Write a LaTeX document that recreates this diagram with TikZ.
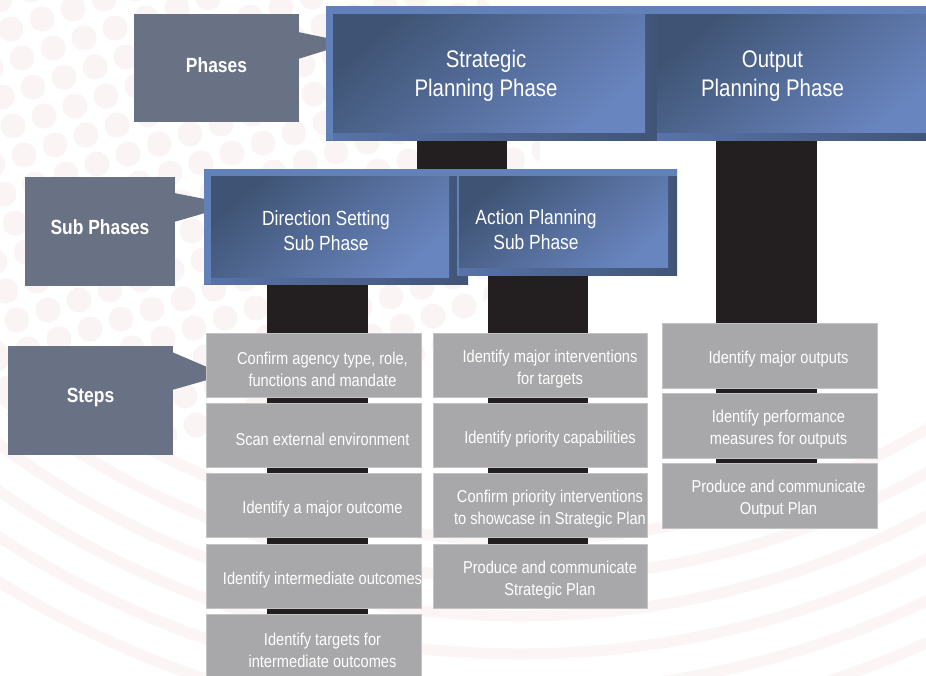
\documentclass[tikz,border=0pt]{standalone}
\usepackage{fontspec}
\setmainfont{Liberation Sans}[FakeStretch=0.85]
\usetikzlibrary{calc}
\pgfdeclarelayer{bg}
\pgfdeclarelayer{bars}
\pgfsetlayers{bg,bars,main}

\definecolor{bgdot}{HTML}{FAF4F4}
\definecolor{bgband}{HTML}{FBF5F5}
\definecolor{frameLight}{HTML}{6381B9}
\definecolor{frameMid}{HTML}{5873A8}
\definecolor{frameDeep}{HTML}{405577}
\definecolor{panelA}{HTML}{3F5474}
\definecolor{panelB}{HTML}{6985BF}
\definecolor{callfill}{HTML}{697184}
\definecolor{stepfill}{HTML}{A8A8AA}
\definecolor{stepline}{HTML}{C4C4C6}
\definecolor{barcol}{HTML}{231F20}

% bevelled blue box: node name, then left/top/right/bottom frame widths
\newcommand\bevelbox[5]{%
  \fill[framedark] (#1.north west) rectangle (#1.south east);
  \fill[framelight] (#1.north west) rectangle ([shift={(0,#3)}]#1.north east);
  \fill[framelight] (#1.north west) rectangle ([shift={(#2,0)}]#1.south west);
  \fill[bluepanel] ([shift={(#2,#3)}]#1.north west) rectangle ([shift={(-#4,-#5)}]#1.south east);
}

\begin{document}
\begin{tikzpicture}[x=1pt,y=-1pt,
  boxshape/.style={anchor=north west, inner sep=0, outer sep=0, draw=none},
  framedark/.style={left color=frameMid, right color=frameDeep},
  framelight/.style={fill=frameLight},
  bluepanel/.style={top color=panelA, bottom color=panelB, shading angle=40},
  tagbox/.style={anchor=north west, inner sep=0, outer sep=0, fill=callfill},
  tagtext/.style={text=white, font=\bfseries\fontsize{20.5}{24}\selectfont},
  tagtip/.style={fill=callfill},
  stepbox/.style={anchor=north west, inner sep=0, outer sep=0, fill=stepfill,
    draw=stepline, line width=0.6, minimum width=215, minimum height=64},
  steptext/.style={text=white, align=center, font=\fontsize{17.2}{22}\selectfont},
  phasetext/.style={text=white, align=center, font=\fontsize{24}{29}\selectfont},
  subtext/.style={text=white, align=center, font=\fontsize{20.5}{25}\selectfont},
  bar/.style={draw=barcol, line width=#1},
]
\useasboundingbox (0,0) rectangle (926,675);

% ---------- background: white page, faint rings and dots ----------
\begin{pgfonlayer}{bg}
  \fill[white] (0,0) rectangle (926,675);
  \begin{scope}
    \clip (0,0) rectangle (926,675);
    \foreach \r in {800,838,876,914,952,990}
      \draw[bgband, line width=11] (520,-260) circle[radius=\r];
  \end{scope}
  \begin{scope}
    \clip (160,150) ellipse [x radius=380, y radius=290];
    \foreach \i in {-8,...,16}
      \foreach \j in {-6,...,16}
        \fill[bgdot] ({\i*31+\j*11},{\j*29-\i*10}) circle[radius=12.5];
  \end{scope}
\end{pgfonlayer}

% ---------- phase and sub phase boxes ----------
\node[boxshape, minimum width=331, minimum height=134] (sp) at (326,6) {};
\node[boxshape, minimum width=276, minimum height=134] (op) at (657,6) {};
\node[boxshape, minimum width=264, minimum height=115] (ds) at (204,169) {};
\node[boxshape, minimum width=220, minimum height=106] (ap) at (457,169) {};

% ---------- step boxes ----------
\node[stepbox] (c1a) at (206,333) {};
\node[stepbox] (c1b) at (206,403) {};
\node[stepbox] (c1c) at (206,473) {};
\node[stepbox] (c1d) at (206,544) {};
\node[stepbox] (c1e) at (206,614) {};

\node[stepbox, minimum width=214] (c2a) at (433,333) {};
\node[stepbox, minimum width=214] (c2b) at (433,403) {};
\node[stepbox, minimum width=214] (c2c) at (433,473) {};
\node[stepbox, minimum width=214] (c2d) at (433,544) {};

\node[stepbox, minimum height=65] (c3a) at (662,323) {};
\node[stepbox, minimum height=65] (c3b) at (662,393) {};
\node[stepbox, minimum height=65] (c3c) at (662,463) {};

% ---------- level tags ----------
\node[tagbox, minimum width=165, minimum height=108] (ph) at (134,14) {};
\node[tagbox, minimum width=150, minimum height=109] (sb) at (25,177) {};
\node[tagbox, minimum width=165, minimum height=109] (st) at (8,346) {};

% ---------- connectors (black trunks) and tag pointers ----------
\coordinate (xs) at (462,0);
\coordinate (x1) at (317.5,0);
\coordinate (x2) at (538,0);
\coordinate (x3) at (766.5,0);
\begin{pgfonlayer}{bars}
  \draw[bar=90]  (sp.south -| xs) -- (ds.north -| xs);
  \draw[bar=101] (ds.south -| x1) -- (c1e.center -| x1);
  \draw[bar=100] (ap.south -| x2) -- (c2d.center -| x2);
  \draw[bar=101] (op.south -| x3) -- (c3c.center -| x3);

  \fill[tagtip] ([shift={(-1,-36)}]ph.east) -- ([shift={(1,-35)}]sp.west)
     -- ([shift={(1,-23)}]sp.west) -- ([shift={(-1,-9)}]ph.east) -- cycle;
  \fill[tagtip] ([shift={(-1,-38.5)}]sb.east) -- ([shift={(1,-27.5)}]ds.west)
     -- ([shift={(1,-13.5)}]ds.west) -- ([shift={(-1,-9.5)}]sb.east) -- cycle;
  \fill[tagtip] ([shift={(-1,-48.5)}]st.east) -- ([shift={(1,2)}]c1a.west)
     -- ([shift={(1,15)}]c1a.west) -- ([shift={(-1,-10.5)}]st.east) -- cycle;
\end{pgfonlayer}

% ---------- paint the blue boxes ----------
\bevelbox{sp}{7}{8}{12}{8}
\bevelbox{op}{0}{8}{0}{8}
\bevelbox{ds}{7}{7}{19}{7}
\bevelbox{ap}{2}{7}{9}{8}

% ---------- texts ----------
\node[phasetext] (sp-t) at ([shift={(-5.5,3)}]sp.center) {Strategic\\Planning Phase};
\node[phasetext] (op-t) at ([shift={(-22.5,3)}]op.center) {Output\\Planning Phase};
\node[subtext] (ds-t) at ([shift={(-10,4)}]ds.center) {Direction Setting\\Sub Phase};
\node[subtext] (ap-t) at ([shift={(-31,8)}]ap.center) {Action Planning\\Sub Phase};

\node[tagtext] (ph-t) at ([shift={(0,-3)}]ph.center) {Phases};
\node[tagtext] (sb-t) at ([shift={(0,-4)}]sb.center) {Sub Phases};
\node[tagtext] (st-t) at ([shift={(0,-3)}]st.center) {Steps};

\node[steptext] (c1a-t) at ([shift={(9,4)}]c1a.center) {Confirm agency type, role,\\functions and mandate};
\node[steptext] (c1b-t) at ([shift={(9,4)}]c1b.center) {Scan external environment};
\node[steptext] (c1c-t) at ([shift={(9,4)}]c1c.center) {Identify a major outcome};
\node[steptext] (c1d-t) at ([shift={(9,4)}]c1d.center) {Identify intermediate outcomes};
\node[steptext] (c1e-t) at ([shift={(9,4)}]c1e.center) {Identify targets for\\intermediate outcomes};

\node[steptext] (c2a-t) at ([shift={(10,4)}]c2a.center) {Identify major interventions\\for targets};
\node[steptext] (c2b-t) at ([shift={(10,4)}]c2b.center) {Identify priority capabilities};
\node[steptext] (c2c-t) at ([shift={(10,4)}]c2c.center) {Confirm priority interventions\\to showcase in Strategic Plan};
\node[steptext] (c2d-t) at ([shift={(10,4)}]c2d.center) {Produce and communicate\\Strategic Plan};

\node[steptext] (c3a-t) at ([shift={(9,4)}]c3a.center) {Identify major outputs};
\node[steptext] (c3b-t) at ([shift={(9,4)}]c3b.center) {Identify performance\\measures for outputs};
\node[steptext] (c3c-t) at ([shift={(9,4)}]c3c.center) {Produce and communicate\\Output Plan};
\end{tikzpicture}
\end{document}
